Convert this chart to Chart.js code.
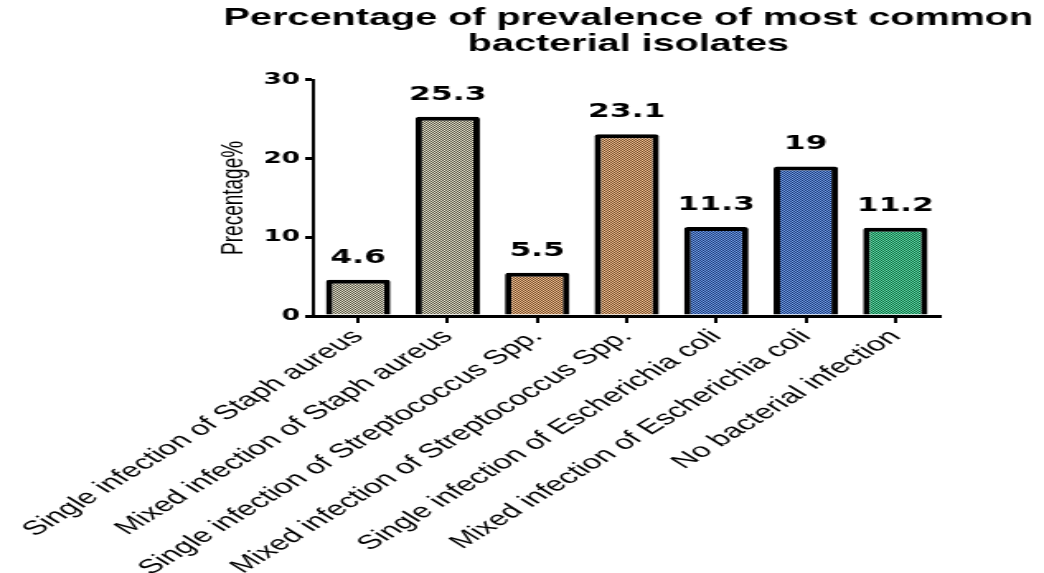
<!DOCTYPE html>
<html>
<head>
<meta charset="utf-8">
<script src="https://cdn.jsdelivr.net/npm/chart.js@4/dist/chart.umd.min.js"></script>
<style>
  html, body { margin: 0; padding: 0; background: #ffffff; }
  canvas { display: block; }
</style>
</head>
<body>
<canvas id="c" width="633" height="573" style="width:1044px;height:573px"></canvas>
<script>
const titleLines = ['Percentage of prevalence of most common', 'bacterial isolates'];
const categories = [
  'Single infection of Staph aureus',
  'Mixed infection of Staph aureus',
  'Single infection of Streptococcus Spp.',
  'Mixed infection of Streptococcus Spp.',
  'Single infection of Escherichia coli',
  'Mixed infection of Escherichia coli',
  'No bacterial infection'
];
const percentages = [4.6, 25.3, 5.5, 23.1, 11.3, 19, 11.2];
const yAxisTitle = 'Precentage%';
const yMin = 0, yMax = 30, yStep = 10;

const canvas = document.getElementById('c');
const ctx = canvas.getContext('2d');

function makePattern(light, dark) {
  const t = document.createElement('canvas');
  t.width = 2; t.height = 2;
  const g = t.getContext('2d');
  g.fillStyle = light; g.fillRect(0, 0, 2, 2);
  g.fillStyle = dark; g.fillRect(0, 0, 1, 1); g.fillRect(1, 1, 1, 1);
  return ctx.createPattern(t, 'repeat');
}
const beige = makePattern('#eeead4', '#4a483a');
const tan = makePattern('#f6c290', '#6a4628');
const blue = makePattern('#72a2ec', '#1a3470');
const green = makePattern('#5ee4aa', '#105e3c');
const barFills = [beige, beige, tan, tan, blue, blue, green];

const valueLabels = {
  id: 'valueLabels',
  afterDatasetsDraw(chart) {
    const c = chart.ctx;
    const meta = chart.getDatasetMeta(0);
    c.save();
    c.font = 'bold 19px "DejaVu Sans"';
    c.fillStyle = '#000';
    c.textAlign = 'center';
    c.textBaseline = 'alphabetic';
    meta.data.forEach((bar, i) => {
      c.fillText(String(chart.data.datasets[0].data[i]), bar.x, bar.y - 17);
    });
    c.restore();
  }
};

new Chart(ctx, {
  type: 'bar',
  data: {
    labels: categories,
    datasets: [{
      data: percentages,
      backgroundColor: barFills,
      borderColor: '#000',
      borderWidth: 4,
      borderRadius: 2,
      borderSkipped: 'start',
      categoryPercentage: 1,
      barPercentage: 0.72
    }]
  },
  options: {
    responsive: false,
    devicePixelRatio: 1,
    animation: false,
    layout: { padding: { left: 134, right: 5, top: 0, bottom: 0 } },
    plugins: {
      legend: { display: false },
      tooltip: { enabled: false },
      title: {
        display: true,
        text: titleLines,
        color: '#000',
        fullSize: true,
        font: { family: '"Liberation Sans", Arial, sans-serif', size: 24, weight: 'bold', lineHeight: 1.1 },
        padding: { top: 5, bottom: 22 }
      }
    },
    scales: {
      x: {
        offset: true,
        grid: { display: true, drawOnChartArea: false, drawTicks: true, tickLength: 7, color: '#000', lineWidth: 2, offset: false },
        border: { display: true, color: '#000', width: 3 },
        ticks: {
          autoSkip: false, minRotation: 45, maxRotation: 45, padding: 2,
          color: '#000',
          font: { family: '"Liberation Sans", Arial, sans-serif', size: 20 }
        },
        afterFit(scale) { scale.height = 257; }
      },
      y: {
        min: yMin, max: yMax,
        grid: { display: true, drawOnChartArea: false, drawTicks: true, tickLength: 5, color: '#000', lineWidth: 3 },
        border: { display: true, color: '#000', width: 2 },
        ticks: {
          stepSize: yStep, padding: 3, color: '#000',
          font: { family: '"DejaVu Sans", sans-serif', size: 16, weight: 'bold' }
        },
        title: {
          display: true, text: yAxisTitle, color: '#000',
          font: { family: '"Liberation Sans", Arial, sans-serif', size: 19 },
          padding: { top: -4, bottom: 0 }
        },
        afterFit(scale) { scale.width = 56; }
      },
      yRightSpacer: {
        type: 'linear',
        position: 'right',
        display: true,
        grid: { display: false },
        border: { display: false },
        ticks: { display: false },
        afterFit(scale) { scale.width = 58; }
      }
    }
  },
  plugins: [valueLabels]
});
</script>
</body>
</html>
